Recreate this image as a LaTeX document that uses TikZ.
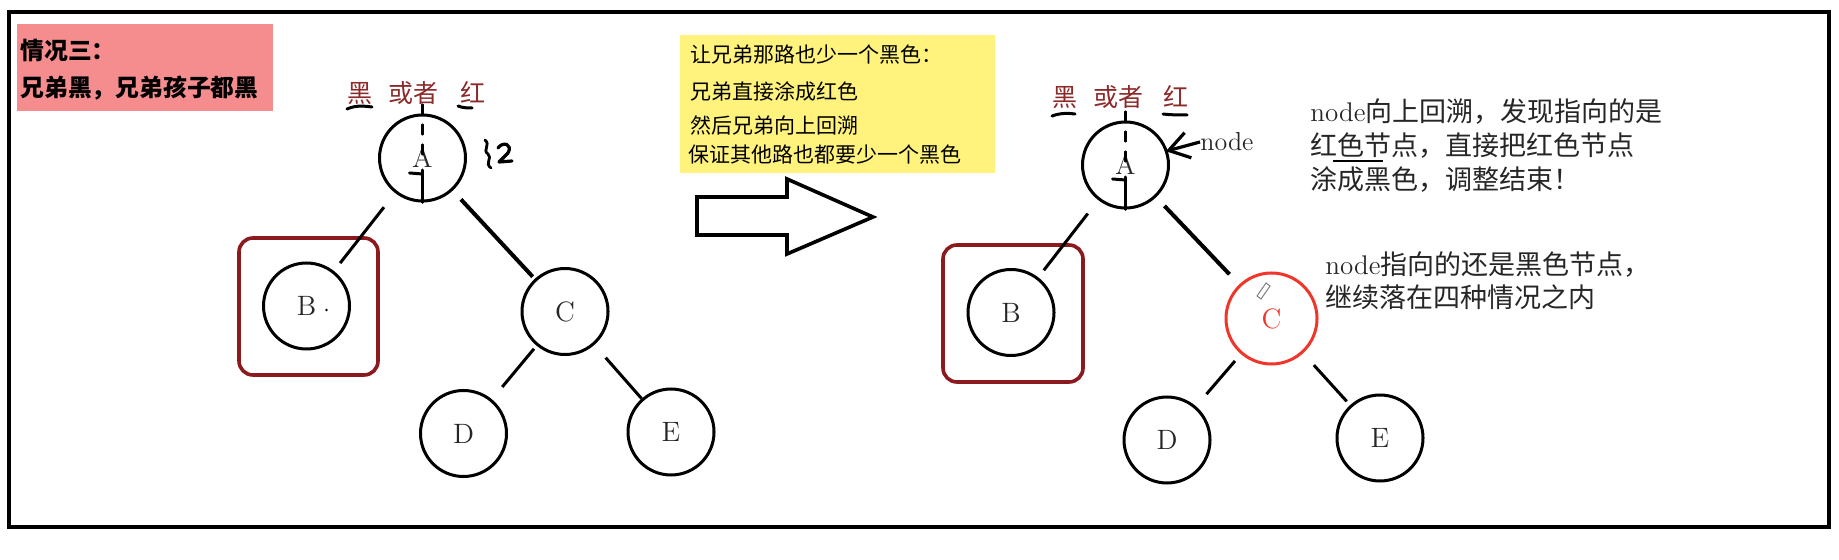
\documentclass[tikz,border=0pt]{standalone}
\usepackage{fontspec}
\newfontfamily\cjk{Noto Sans CJK SC}
\usepackage{xcolor}
\usepackage{tikz}
\usetikzlibrary{arrows.meta}
\definecolor{pinkbg}{HTML}{F58C8E}
\definecolor{yellowbg}{HTML}{FFF27D}
\definecolor{boxred}{HTML}{8B1A1E}
\definecolor{labelred}{HTML}{8C2A2A}
\definecolor{redC}{HTML}{F0352A}
\definecolor{textgray}{HTML}{262626}

\begin{document}
\begin{tikzpicture}[x=0.5pt,y=0.5pt,yscale=-1,xscale=1,
  treenode/.style={circle,draw=black,line width=1.5pt,minimum size=43pt,inner sep=0pt,
    font=\fontsize{14}{14}\selectfont,text=textgray},
  edge/.style={line width=1.5pt},
  brotherbox/.style={draw=boxred,line width=1.8pt,rounded corners=7pt},
  scribble/.style={line width=1.1pt,line cap=round,line join=round}]
\useasboundingbox (0,0) rectangle (1839,560);

%Frame
\draw [line width=1.8pt] (9,12) rectangle (1829,527);

%Shape: Rectangle (case title)
\fill [pinkbg] (17,24) rectangle (273,111);
% Text Node
\draw (20,50) node [anchor=west][inner sep=0pt] (caseTitle) {\cjk\bfseries\fontsize{11.9}{12}\selectfont 情况三：};
% Text Node
\draw (20,88) node [anchor=west][inner sep=0pt] (caseDesc) {\cjk\bfseries\fontsize{11.9}{12}\selectfont 兄弟黑，兄弟孩子都黑};

%%%%%%%% left tree
\draw [brotherbox] (239,238) rectangle (378,375);
\node [treenode] (lA) at (422.5,158) {A};
\node [treenode] (lB) at (306.5,306) {B};
\node [treenode] (lC) at (565,311.5) {C};
\node [treenode] (lD) at (463.5,433.5) {D};
\node [treenode] (lE) at (671,432) {E};
%Straight Lines
\draw [edge,shorten <=9pt,shorten >=5pt] (lA) -- (lB);
\draw [edge,line width=2pt,shorten <=6pt,shorten >=1.5pt] (lA) -- (lC);
\draw [edge,shorten <=2pt,shorten >=8pt] (lC) -- (lD);
\draw [edge,shorten <=8.5pt] (lC) -- (lE);
% marks inside A (yshift is flipped by yscale=-1)
\draw [scribble,dash pattern=on 5pt off 5pt] ([yshift=-4.5pt]lA.north) -- ([yshift=3pt]lA.center);
\draw [scribble,line width=1.5pt] ([yshift=6pt]lA.center) -- (lA.south);
\draw [scribble,line width=1.5pt] ([xshift=-6.5pt,yshift=7.5pt]lA.center) -- ([yshift=8pt]lA.center);
\fill ([xshift=10pt,yshift=2pt]lB.center) circle (1.4);
% Text Node
\draw (347,93) node [anchor=west][inner sep=0pt] (lColor) {\cjk\color{labelred}\fontsize{12.5}{12.5}\selectfont 黑\hspace{8pt}或者\hspace{11pt}红};
\draw [scribble,line width=1.5pt] (347,109) .. controls (356,105) and (364,106) .. (372,107);
\draw [scribble,line width=1.5pt] (458,106) .. controls (463,108) and (468,108) .. (472,108);
% squiggle beside A
\draw [scribble,line width=1.4pt] (485,140) .. controls (491,145) and (482,150) .. (488,154) .. controls (493,158) and (484,163) .. (491,168);
\draw [scribble,line width=1.6pt] (498,148) .. controls (503,141) and (513,144) .. (508,153) -- (499,162) -- (512,161);

%%%%%%%% note box
\fill [yellowbg] (680,35) rectangle (995,173);
% Text Node
\draw (690,55) node [anchor=west][inner sep=0pt] (noteA) {\cjk\fontsize{10.5}{11}\selectfont 让兄弟那路也少一个黑色：};
% Text Node
\draw (690,92) node [anchor=west][inner sep=0pt] (noteB) {\cjk\fontsize{10.5}{11}\selectfont 兄弟直接涂成红色};
% Text Node
\draw (690,125) node [anchor=west][inner sep=0pt] (noteC) {\cjk\fontsize{10.5}{11}\selectfont 然后兄弟向上回溯};
% Text Node
\draw (688,155) node [anchor=west][inner sep=0pt] (noteD) {\cjk\fontsize{10.5}{11}\selectfont 保证其他路也都要少一个黑色};

%Shape: Right Arrow
\draw [line width=1.8pt,line join=miter] (697,197) -- (787,197) -- (787,179) -- (873,217) -- (787,254) -- (787,235) -- (697,235) -- cycle;

%%%%%%%% right tree
\draw [brotherbox] (943,245) rectangle (1083,382);
\node [treenode] (rA) at (1125.5,165) {A};
\node [treenode] (rB) at (1011,312.5) {B};
\node [treenode,draw=redC,text=redC,minimum size=45.5pt] (rC) at (1271.5,318.5) {C};
\node [treenode] (rD) at (1167,440) {D};
\node [treenode] (rE) at (1380,438) {E};
%Straight Lines
\draw [edge,shorten <=8.5pt,shorten >=4.5pt] (rA) -- (rB);
\draw [edge,line width=2pt,shorten <=6pt,shorten >=7pt] (rA) -- (rC);
\draw [edge,shorten <=4.5pt,shorten >=8pt] (rC) -- (rD);
\draw [edge,shorten <=8pt,shorten >=2.5pt] (rC) -- (rE);
% marks inside A
\draw [scribble,dash pattern=on 5pt off 5pt] ([yshift=-4.5pt]rA.north) -- ([yshift=3pt]rA.center);
\draw [scribble,line width=1.5pt] ([yshift=6pt]rA.center) -- (rA.south);
\draw [scribble,line width=1.5pt] ([xshift=-6.5pt,yshift=7pt]rA.center) -- ([yshift=7.5pt]rA.center);
% pencil cursor
\draw [gray,line width=0.5pt,fill=white] (1257,296) -- (1266,283) -- (1270,286) -- (1261,299) -- cycle;
% Text Node
\draw (1052,97) node [anchor=west][inner sep=0pt] (rColor) {\cjk\color{labelred}\fontsize{12.5}{12.5}\selectfont 黑\hspace{8pt}或者\hspace{10pt}红};
\draw [scribble,line width=1.5pt] (1052,116) .. controls (1060,113) and (1068,113) .. (1075,114);
\draw [scribble,line width=1.5pt] (1163,114) .. controls (1171,115) and (1180,115) .. (1187,115);
% Text Node
\draw (1200,142) node [anchor=west][inner sep=0pt,text=textgray] (nodePtr) {\fontsize{13}{13}\selectfont node};
\draw [line width=1.6pt,-{Straight Barb[length=10pt,width=13pt,line width=1.6pt]}] (nodePtr.west) -- ([xshift=-1pt]rA.18);

% Text Node
\draw (1310,98) node [anchor=north west][inner sep=0pt,align=left,text=textgray,
  font=\fontsize{13.5}{17}\selectfont] (resultRed) {node{\cjk 向上回溯，发现指向的是}\\
  {\cjk 红色节点，直接把红色节点}\\
  {\cjk 涂成黑色，调整结束！}};
\draw [line width=1.1pt] (1333,161) -- (1383,161);
% Text Node
\draw (1325,251) node [anchor=north west][inner sep=0pt,align=left,text=textgray,
  font=\fontsize{13.5}{16.5}\selectfont] (resultBlack) {node{\cjk 指向的还是黑色节点，}\\
  {\cjk 继续落在四种情况之内}};

\end{tikzpicture}
\end{document}
